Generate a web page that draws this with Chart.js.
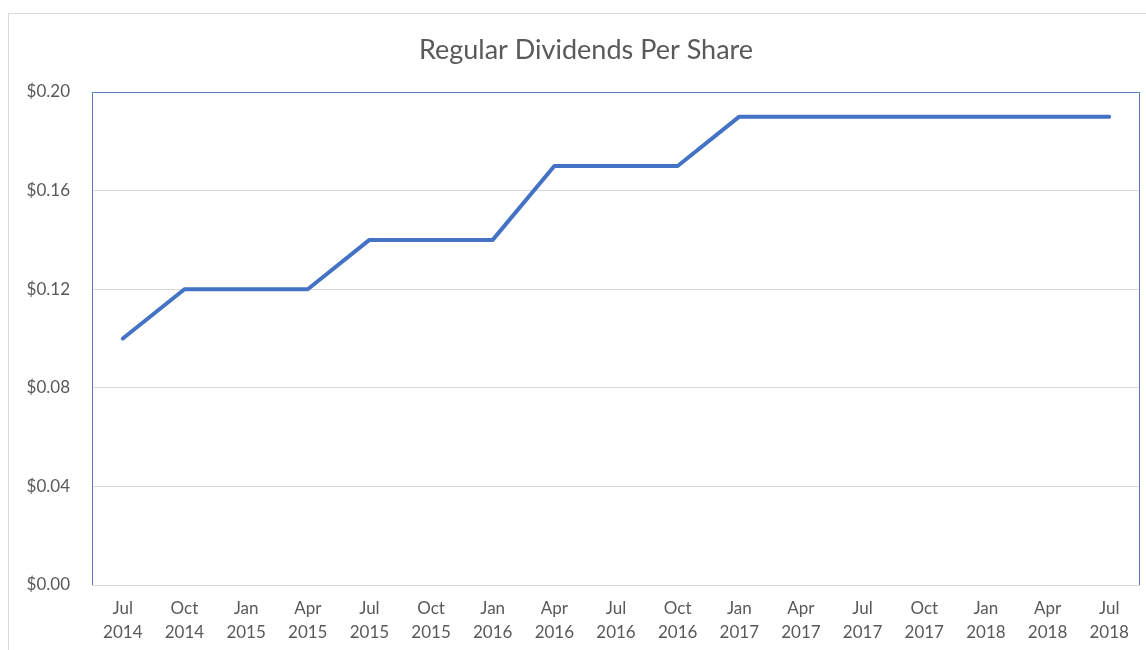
<!DOCTYPE html>
<html>
<head>
<meta charset="utf-8">
<script src="https://cdn.jsdelivr.net/npm/chart.js@4"></script>
<style>
  body { margin: 0; background: #fff; }
  #box { position: absolute; left: 0; top: 0; width: 1146px; height: 650px; }
  #frame { position: absolute; left: 8px; top: 13px; width: 1150px; height: 660px; border: 1px solid #d9d9d9; }
</style>
</head>
<body>
<div id="frame"></div>
<div id="box"><canvas id="myChart" width="1146" height="650"></canvas></div>
<script>
'use strict';
let chartTitle = 'Regular Dividends Per Share';
let months = ['Jul', 'Oct', 'Jan', 'Apr', 'Jul', 'Oct', 'Jan', 'Apr', 'Jul', 'Oct', 'Jan', 'Apr', 'Jul', 'Oct', 'Jan', 'Apr', 'Jul'];
let years = ['2014', '2014', '2015', '2015', '2015', '2015', '2016', '2016', '2016', '2016', '2017', '2017', '2017', '2017', '2018', '2018', '2018'];
let dividends = [0.10, 0.12, 0.12, 0.12, 0.14, 0.14, 0.14, 0.17, 0.17, 0.17, 0.19, 0.19, 0.19, 0.19, 0.19, 0.19, 0.19];
let yTicks = [0, 0.04, 0.08, 0.12, 0.16, 0.20];

let fontFam = 'Lato, "Open Sans", sans-serif';

let labels = [];
for (let i = 0; i < months.length; i++) {
    labels.push([months[i], years[i]]);
}

// title centred on the outer frame, plus the blue frame round the plot area
let plotFrame = {
    id: 'plotFrame',
    afterDraw(chart) {
        let a = chart.chartArea;
        let ctx = chart.ctx;
        ctx.save();
        ctx.fillStyle = '#595959';
        ctx.font = '27px ' + fontFam;
        ctx.textAlign = 'center';
        ctx.textBaseline = 'middle';
        ctx.fillText(chartTitle, 586, 50);

        ctx.strokeStyle = '#d9d9d9';
        ctx.lineWidth = 1;
        ctx.beginPath();
        ctx.moveTo(a.left, a.bottom + 0.5);
        ctx.lineTo(a.right, a.bottom + 0.5);
        ctx.stroke();
        ctx.strokeStyle = '#5b7db5';
        ctx.beginPath();
        ctx.moveTo(a.left + 0.5, a.bottom);
        ctx.lineTo(a.left + 0.5, a.top + 0.5);
        ctx.lineTo(a.right - 0.5, a.top + 0.5);
        ctx.lineTo(a.right - 0.5, a.bottom);
        ctx.stroke();
        ctx.restore();
    }
};

let ctx = document.getElementById('myChart').getContext('2d');
let chart = new Chart(ctx, {
    type: 'line',
    data: {
        labels: labels,
        datasets: [{
            label: chartTitle,
            data: dividends,
            borderColor: '#4472c4',
            borderWidth: 4,
            pointRadius: 0,
            tension: 0,
            borderCapStyle: 'round',
            borderJoinStyle: 'round'
        }]
    },
    options: {
        responsive: false,
        animation: false,
        layout: { padding: { left: 0, right: 6, top: 92, bottom: 0 } },
        plugins: {
            legend: { display: false },
            tooltip: { enabled: false },
            title: { display: false }
        },
        scales: {
            x: {
                offset: true,
                grid: { display: false, drawTicks: false },
                border: { display: false },
                ticks: {
                    color: '#595959',
                    font: { family: fontFam, size: 17, lineHeight: 1.42 },
                    padding: 11,
                    maxRotation: 0,
                    autoSkip: false
                },
                afterFit: function (scale) { scale.height = 65; }
            },
            y: {
                min: 0,
                max: 0.20,
                afterBuildTicks: function (scale) {
                    scale.ticks = yTicks.map(function (v) { return { value: v }; });
                },
                grid: { color: '#d9d9d9', drawTicks: false },
                border: { display: false },
                ticks: {
                    color: '#595959',
                    font: { family: fontFam, size: 17 },
                    padding: 22,
                    callback: function (v) { return '$' + Number(v).toFixed(2); }
                },
                afterFit: function (scale) { scale.width = 92; }
            }
        }
    },
    plugins: [plotFrame]
});
</script>
</body>
</html>
